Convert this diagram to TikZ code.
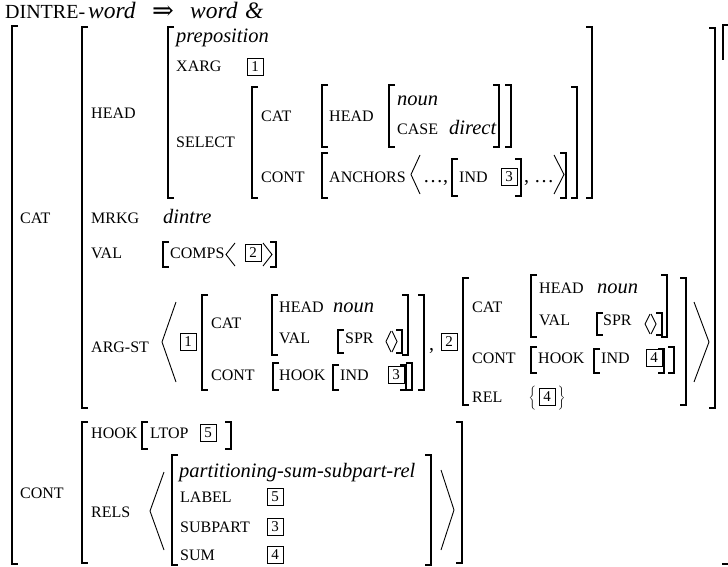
\documentclass[tikz,border=0pt]{standalone}
\usepackage{fontspec}
\setmainfont{Liberation Serif}
\newfontfamily\djv{DejaVu Serif}
\newcommand\fsc{\fontsize{16}{18}\selectfont}
\newcommand\fsi{\fontsize{20.5}{24}\selectfont\itshape}
\newcommand\fsr{\fontsize{20}{24}\selectfont}
\newcommand\Lbk[3]{\draw[brk] ({#1+6},#2) -- (#1,#2) -- (#1,#3) -- ({#1+6},#3);}
\newcommand\Rbk[3]{\draw[brk] ({#1-6},#2) -- (#1,#2) -- (#1,#3) -- ({#1-6},#3);}
\newcommand\Lang[4]{\draw[ang] (#2,#3) -- (#1,{(#3+#4)/2}) -- (#2,#4);}
\newcommand\Rang[4]{\draw[ang] (#1,#3) -- (#2,{(#3+#4)/2}) -- (#1,#4);}
\newcommand\Tx[5]{\node[#2] (#1) at (#3,#4) {#5};}
\tikzset{
  brk/.style={line width=1.3pt},
  ang/.style={line width=0.9pt},
  attr/.style={anchor=base west, inner sep=0pt, font=\fsc},
  itv/.style={anchor=base west, inner sep=0pt, font=\fsi},
  txt/.style={anchor=base west, inner sep=0pt, font=\fsr},
  ttl/.style={anchor=base west, inner sep=0pt, font=\fontsize{23.5}{26}\selectfont},
  tag/.style={draw, line width=0.8pt, minimum width=16pt, minimum height=16.5pt, inner sep=0pt, font=\fontsize{15}{15}\selectfont},
}
\begin{document}
\begin{tikzpicture}[x=1pt,y=-1pt]
\useasboundingbox (0,0) rectangle (728,567);
% title
\Tx{tdin}{attr}{5}{19}{{\fontsize{20}{24}\selectfont DINTRE-}}
\Tx{tw1}{ttl}{88}{19}{\textit{word}}
\node[anchor=base, inner sep=0pt, font=\fontsize{26}{26}\selectfont\djv] (timp) at (163,20) {⇒};
\Tx{tw2}{ttl}{190}{19}{\textit{word}}
\Tx{tamp}{ttl}{245}{19}{\textit{\&}}
% outer bracket
\Lbk{12}{26}{564}
\draw[brk] (723,60) -- (723,25) -- (729,25);
\draw[brk] (722,564) -- (729,564);
% top-level labels
\Tx{lcat}{attr}{20}{223}{CAT}
\Tx{lcont}{attr}{20}{498}{CONT}
% CAT value
\Lbk{82}{27}{408}
\Rbk{715}{28}{408}
\Tx{lhead}{attr}{91}{119}{HEAD}
% HEAD value
\Lbk{168}{27}{198}
\Rbk{592}{27}{198}
\Tx{prep}{itv}{176}{43}{preposition}
\Tx{lxarg}{attr}{176}{72}{XARG}
\node[tag] (t1a) at (255,67) {1};
\Tx{lsel}{attr}{176}{148}{SELECT}
% SELECT value
\Lbk{252}{87}{198}
\Rbk{577}{87}{198}
\Tx{lscat}{attr}{261}{122}{CAT}
\Lbk{322}{85}{147}
\Rbk{511}{85}{147}
\Tx{lshead}{attr}{329}{122}{HEAD}
\Lbk{389}{85}{147}
\Rbk{499}{85}{147}
\Tx{noun1}{itv}{397}{106}{noun}
\Tx{lcase}{attr}{397}{135}{CASE}
\Tx{direct}{itv}{449}{135}{direct}
\Tx{lscont}{attr}{261}{182}{CONT}
\Lbk{322}{153}{198}
\Rbk{566}{153}{198}
\Tx{lanch}{attr}{329}{182}{ANCHORS}
\Lang{411}{420}{155}{194}
\Tx{dots1}{txt}{423}{182}{\ldots,}
\Lbk{452}{159}{196}
\Tx{lind1}{attr}{459}{182}{IND}
\node[tag] (t3a) at (509,177) {3};
\Rbk{521}{159}{196}
\Tx{dots2}{txt}{524}{182}{, \ldots}
\Rang{554}{564}{155}{194}
% MRKG, VAL
\Tx{lmrkg}{attr}{91}{223}{MRKG}
\Tx{dintre}{itv}{163}{223}{dintre}
\Tx{lval}{attr}{91}{258}{VAL}
\Lbk{163}{242}{267}
\Tx{lcomps}{attr}{170}{258}{COMPS}
\Lang{226}{235}{243}{266}
\node[tag] (t2a) at (253,253) {2};
\Rang{263}{272}{243}{266}
\Rbk{276}{242}{267}
% ARG-ST
\Tx{largst}{attr}{91}{352}{ARG-ST}
\Lang{162}{176}{302}{382}
\node[tag] (t1b) at (188,342) {1};
\Lbk{202}{295}{390}
\Rbk{424}{295}{390}
\Tx{lacat}{attr}{211}{328}{CAT}
\Lbk{272}{295}{355}
\Rbk{408}{295}{355}
\Tx{lahead}{attr}{279}{312}{HEAD}
\Tx{noun2}{itv}{333}{312}{noun}
\Tx{laval}{attr}{279}{343}{VAL}
\Lbk{338}{330}{353}
\Tx{lspr1}{attr}{345}{343}{SPR}
\Lang{386}{391}{331}{352}
\Rang{392}{397}{331}{352}
\Rbk{402}{330}{353}
\Tx{lacont}{attr}{211}{380}{CONT}
\Lbk{273}{363}{390}
\Tx{lahook}{attr}{279}{380}{HOOK}
\Lbk{333}{365}{390}
\Tx{laind}{attr}{340}{380}{IND}
\node[tag] (t3b) at (396,375) {3};
\Rbk{406}{365}{390}
\Rbk{412}{363}{390}
\Tx{comma}{txt}{429}{350}{,}
\node[tag] (t2b) at (449,342) {2};
\Lbk{463}{278}{405}
\Rbk{686}{278}{405}
\Tx{lbcat}{attr}{472}{312}{CAT}
\Lbk{531}{275}{337}
\Rbk{667}{275}{337}
\Tx{lbhead}{attr}{539}{293}{HEAD}
\Tx{noun3}{itv}{597}{293}{noun}
\Tx{lbval}{attr}{539}{325}{VAL}
\Lbk{597}{313}{335}
\Tx{lspr2}{attr}{603}{325}{SPR}
\Lang{645}{650}{314}{334}
\Rang{651}{656}{314}{334}
\Rbk{662}{313}{335}
\Tx{lbcont}{attr}{472}{363}{CONT}
\Lbk{531}{347}{373}
\Tx{lbhook}{attr}{538}{363}{HOOK}
\Lbk{594}{349}{373}
\Tx{lbind}{attr}{601}{363}{IND}
\node[tag] (t4a) at (654,358) {4};
\Rbk{664}{349}{373}
\Rbk{674}{347}{373}
\Tx{lbrel}{attr}{472}{402}{REL}
\node[tag] (t4b) at (547,397) {4};
\node[inner sep=0pt] (lbr) at (533,398) {$\left\{\vrule height 12pt depth 10pt width 0pt\right.$};
\node[inner sep=0pt] (rbr) at (561,398) {$\left.\vrule height 12pt depth 10pt width 0pt\right\}$};
\Rang{694}{709}{302}{382}
% CONT value
\Lbk{82}{422}{563}
\Rbk{462}{422}{563}
\Tx{lchook}{attr}{91}{438}{HOOK}
\Lbk{142}{422}{449}
\Tx{lltop}{attr}{150}{438}{LTOP}
\node[tag] (t5a) at (208,433) {5};
\Rbk{231}{422}{449}
\Tx{lrels}{attr}{91}{517}{RELS}
\Lang{150}{164}{472}{550}
\Lbk{172}{455}{565}
\Rbk{431}{455}{565}
\Tx{psr}{itv}{179}{477}{partitioning-sum-subpart-rel}
\Tx{llabel}{attr}{180}{502}{LABEL}
\node[tag] (t5b) at (275,497) {5};
\Tx{lsubp}{attr}{180}{532}{SUBPART}
\node[tag] (t3c) at (275,527) {3};
\Tx{lsum}{attr}{180}{560}{SUM}
\node[tag] (t4c) at (275,555) {4};
\Rang{441}{454}{470}{550}
\end{tikzpicture}
\end{document}
